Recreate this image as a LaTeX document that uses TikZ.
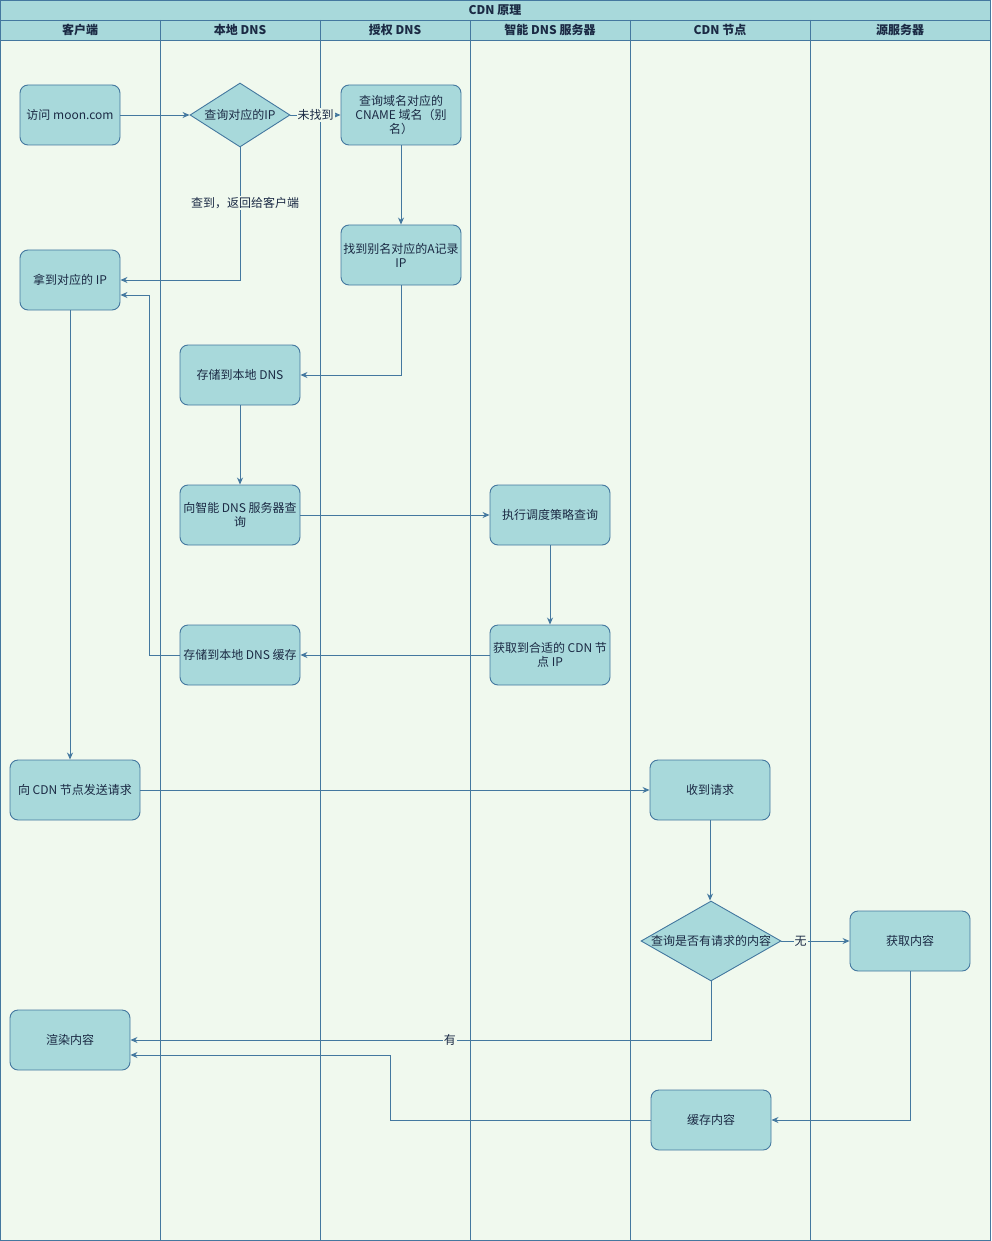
\documentclass[tikz,border=0pt]{standalone}
\usepackage{fontspec}
\setmainfont{Noto Sans CJK SC}
\usetikzlibrary{shapes.geometric,arrows.meta}
\definecolor{lanefill}{HTML}{F0F9EE}
\definecolor{headfill}{HTML}{A8D9DB}
\definecolor{boxfill}{HTML}{A8D9DB}
\definecolor{linecol}{HTML}{44789F}
\definecolor{txtcol}{HTML}{1B2A44}

\begin{document}
\begin{tikzpicture}[x=1pt,y=-1pt, line width=0.9pt,
    font=\fontsize{12}{14}\selectfont, text=txtcol,
    box/.style={rectangle, rounded corners=8pt, draw=linecol, fill=boxfill,
                minimum width=120pt, minimum height=60pt, align=center, inner sep=1pt},
    choice/.style={diamond, draw=linecol, fill=boxfill, inner sep=0pt},
    flow/.style={draw=linecol, -{Stealth[length=7pt,width=6pt]}},
    lbl/.style={fill=lanefill, inner sep=1pt},
    head/.style={font=\fontsize{12}{14}\selectfont\bfseries}]

    \useasboundingbox (0,0) rectangle (991,1241);

    % 泳道背景
    \fill[lanefill] (0.5,40) rectangle (990.5,1240.5);
    \fill[headfill] (0.5,0.5) rectangle (990.5,40);
    \draw[linecol] (0.5,0.5) rectangle (990.5,1240.5);
    \draw[linecol] (0.5,20) -- (990.5,20);
    \draw[linecol] (0.5,40) -- (990.5,40);
    \foreach \x in {160,320,470,630,810}
        \draw[linecol] (\x,20) -- (\x,1240.5);

    % 标题与泳道名
    \node[head] (title) at (495,10) {CDN 原理};
    \foreach \x/\name in {80/客户端, 240/本地 DNS, 395/授权 DNS, 550/智能 DNS 服务器, 720/CDN 节点, 900/源服务器}
        \node[head] (lane\x) at (\x,30) {\name};

    % 解析过程
    \node[box, minimum width=100pt] (visit) at (70,115) {访问 moon.com};
    \node[choice, minimum width=100pt, minimum height=64pt] (findip) at (240,115) {};
    \node (findiptext) at (findip) {查询对应的IP};
    \node[box] (cname) at (401,115) {查询域名对应的\\CNAME 域名（别\\名）};
    \node[box] (alias) at (401,255) {找到别名对应的A记录\\IP};
    \node[box, minimum width=100pt] (getip) at (70,280) {拿到对应的 IP};
    \node[box] (store) at (240,375) {存储到本地 DNS};
    \node[box] (askdns) at (240,515) {向智能 DNS 服务器查\\询};
    \node[box] (policy) at (550,515) {执行调度策略查询};
    \node[box] (cdnip) at (550,655) {获取到合适的 CDN 节\\点 IP};
    \node[box] (cache) at (240,655) {存储到本地 DNS 缓存};

    % 请求内容
    \node[box, minimum width=130pt] (send) at (75,790) {向 CDN 节点发送请求};
    \node[box] (recv) at (710,790) {收到请求};
    \node[choice, minimum width=140pt, minimum height=80pt] (hascontent) at (711,941) {};
    \node (hascontenttext) at (hascontent) {查询是否有请求的内容};
    \node[box] (fetch) at (910,941) {获取内容};
    \node[box] (render) at (70,1040) {渲染内容};
    \node[box] (keep) at (711,1120) {缓存内容};

    % 连线
    \draw[flow] (visit) -- (findip);
    \draw[flow] (findip) -- node[lbl] {未找到} (cname);
    \draw[flow] (findip.south) |- node[lbl, pos=0.21, xshift=5pt] {查到，返回给客户端} (getip.east);
    \draw[flow] (cname) -- (alias);
    \draw[flow] (alias.south) |- (store.east);
    \draw[flow] (store) -- (askdns);
    \draw[flow] (askdns) -- (policy);
    \draw[flow] (policy) -- (cdnip);
    \draw[flow] (cdnip) -- (cache);
    \draw[flow] (cache.west) -- ++(-30,0) |- ([yshift=-15pt]getip.east);
    \draw[flow] (getip.south) -- (getip.south |- send.north);
    \draw[flow] (send) -- (recv);
    \draw[flow] (recv) -- (recv |- hascontent.north);
    \draw[flow] (hascontent) -- node[lbl, pos=0.28] {无} (fetch);
    \draw[flow] (hascontent.south) |- node[lbl, pos=0.725] {有} (render.east);
    \draw[flow] (fetch.south) |- (keep.east);
    \draw[flow] (keep.west) -- (390,1120) |- ([yshift=-15pt]render.east);
\end{tikzpicture}
\end{document}
